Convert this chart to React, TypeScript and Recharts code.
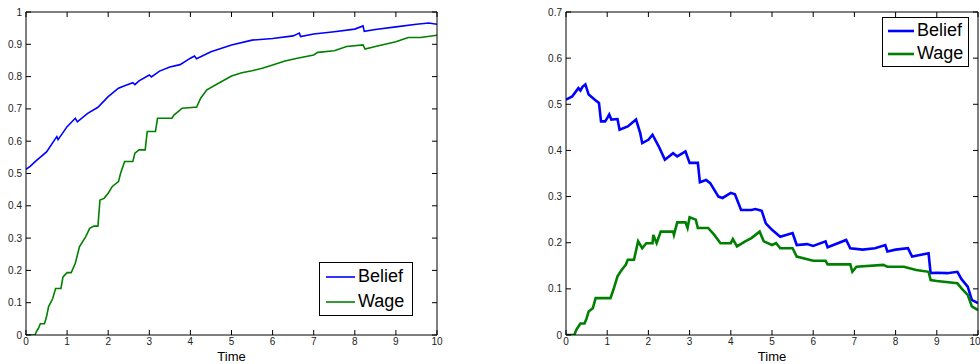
import { LineChart, Line, XAxis, YAxis, Legend } from "recharts";

// left panel
const leftBeliefTime = [0, 0.1, 0.25, 0.5, 0.7, 0.75, 0.78, 1.0, 1.2, 1.25, 1.5, 1.75, 2.0, 2.25, 2.4, 2.6, 2.65, 2.75, 3.0, 3.05, 3.25, 3.5, 3.75, 4.0, 4.1, 4.15, 4.5, 5.0, 5.5, 6.0, 6.5, 6.65, 6.68, 7.0, 7.5, 8.0, 8.2, 8.23, 8.5, 9.0, 9.5, 9.8, 10];
const leftBeliefValue = [0.513, 0.522, 0.54, 0.567, 0.605, 0.614, 0.605, 0.645, 0.671, 0.66, 0.686, 0.705, 0.738, 0.764, 0.772, 0.781, 0.775, 0.787, 0.805, 0.799, 0.817, 0.83, 0.837, 0.857, 0.864, 0.855, 0.877, 0.898, 0.913, 0.918, 0.926, 0.935, 0.924, 0.932, 0.939, 0.947, 0.957, 0.94, 0.946, 0.954, 0.962, 0.966, 0.962];

const leftWageTime = [0, 0.22, 0.25, 0.3, 0.35, 0.45, 0.5, 0.55, 0.65, 0.72, 0.85, 0.9, 1.0, 1.1, 1.2, 1.3, 1.45, 1.55, 1.65, 1.75, 1.8, 1.9, 2.0, 2.1, 2.25, 2.3, 2.4, 2.6, 2.65, 2.75, 2.9, 2.95, 3.15, 3.2, 3.55, 3.6, 3.8, 4.1, 4.15, 4.25, 4.4, 4.75, 5.0, 5.25, 5.5, 5.75, 6.0, 6.3, 6.6, 7.0, 7.1, 7.5, 7.8, 8.2, 8.25, 8.5, 9.0, 9.3, 9.6, 10];
const leftWageValue = [0, 0, 0.01, 0.02, 0.035, 0.035, 0.057, 0.088, 0.113, 0.144, 0.144, 0.18, 0.193, 0.193, 0.222, 0.273, 0.304, 0.33, 0.337, 0.337, 0.418, 0.423, 0.439, 0.46, 0.475, 0.5, 0.537, 0.537, 0.563, 0.573, 0.573, 0.63, 0.63, 0.671, 0.671, 0.681, 0.702, 0.705, 0.705, 0.733, 0.759, 0.784, 0.802, 0.812, 0.818, 0.826, 0.836, 0.848, 0.857, 0.867, 0.875, 0.88, 0.893, 0.898, 0.885, 0.893, 0.908, 0.921, 0.921, 0.928];

// right panel
const rightBeliefTime = [0, 0.15, 0.3, 0.35, 0.4, 0.47, 0.55, 0.7, 0.8, 0.85, 0.95, 1.0, 1.05, 1.1, 1.25, 1.3, 1.5, 1.7, 1.8, 1.85, 2.0, 2.1, 2.25, 2.4, 2.6, 2.7, 2.9, 3.0, 3.2, 3.25, 3.4, 3.5, 3.7, 3.8, 4.0, 4.1, 4.25, 4.5, 4.6, 4.75, 4.85, 5.0, 5.2, 5.5, 5.6, 5.85, 6.0, 6.3, 6.35, 6.8, 6.9, 7.2, 7.5, 7.75, 7.8, 8.0, 8.3, 8.4, 8.8, 8.85, 9.0, 9.25, 9.5, 9.6, 9.75, 9.85, 10];
const rightBeliefValue = [0.51, 0.517, 0.535, 0.53, 0.538, 0.543, 0.521, 0.51, 0.503, 0.463, 0.463, 0.47, 0.478, 0.467, 0.468, 0.445, 0.452, 0.467, 0.438, 0.416, 0.423, 0.434, 0.409, 0.38, 0.394, 0.387, 0.398, 0.373, 0.373, 0.331, 0.336, 0.329, 0.3, 0.297, 0.308, 0.305, 0.271, 0.271, 0.273, 0.269, 0.242, 0.228, 0.213, 0.221, 0.195, 0.197, 0.193, 0.203, 0.19, 0.206, 0.188, 0.185, 0.188, 0.195, 0.181, 0.185, 0.188, 0.17, 0.177, 0.134, 0.135, 0.134, 0.137, 0.121, 0.105, 0.076, 0.069];

const rightWageTime = [0, 0.2, 0.25, 0.35, 0.45, 0.5, 0.55, 0.65, 0.72, 1.08, 1.15, 1.25, 1.35, 1.45, 1.5, 1.65, 1.75, 1.85, 1.95, 2.1, 2.12, 2.2, 2.3, 2.6, 2.62, 2.7, 2.9, 2.95, 3.0, 3.15, 3.2, 3.45, 3.6, 3.75, 4.0, 4.05, 4.15, 4.35, 4.5, 4.6, 4.7, 4.8, 5.0, 5.1, 5.2, 5.5, 5.6, 6.0, 6.3, 6.35, 6.9, 6.95, 7.05, 7.7, 7.8, 8.2, 8.5, 8.8, 8.85, 9.0, 9.5, 9.6, 9.75, 9.85, 10];
const rightWageValue = [0, 0, 0.011, 0.025, 0.025, 0.036, 0.051, 0.058, 0.08, 0.08, 0.098, 0.127, 0.141, 0.152, 0.163, 0.163, 0.203, 0.188, 0.199, 0.199, 0.217, 0.199, 0.224, 0.224, 0.217, 0.244, 0.244, 0.232, 0.255, 0.25, 0.232, 0.232, 0.217, 0.199, 0.199, 0.208, 0.192, 0.203, 0.21, 0.217, 0.224, 0.203, 0.195, 0.199, 0.188, 0.188, 0.17, 0.161, 0.161, 0.153, 0.153, 0.137, 0.148, 0.152, 0.148, 0.148, 0.141, 0.137, 0.119, 0.117, 0.112, 0.101, 0.087, 0.062, 0.054];

const timeTicks = [0, 1, 2, 3, 4, 5, 6, 7, 8, 9, 10];
const leftValueTicks = [0, 0.1, 0.2, 0.3, 0.4, 0.5, 0.6, 0.7, 0.8, 0.9, 1];
const rightValueTicks = [0, 0.1, 0.2, 0.3, 0.4, 0.5, 0.6, 0.7];

const zip = (t: number[], v: number[]) => t.map((x, i) => ({ t: x, v: v[i] }));

const FONT = "'Liberation Sans', Arial, sans-serif";
const tickStyle = { fill: "#222", fontSize: 10, fontFamily: FONT };
const blank = () => "";

type LegendLook = { lineWidth: number; sample: number; padLeft: number; padRight: number; rowHeight: number };

function BoxLegend({ payload, look }: { payload: any[]; look: LegendLook }) {
  const items = (payload || []).filter((p: any) => p.value === "Belief" || p.value === "Wage");
  return (
    <div
      style={{
        border: "1px solid #000",
        background: "#fff",
        padding: `1px ${look.padRight}px 1px ${look.padLeft}px`,
        fontFamily: FONT,
        fontSize: 18,
        lineHeight: `${look.rowHeight}px`,
        color: "#000",
      }}
    >
      {items.map((p: any) => (
        <div key={p.value} style={{ display: "flex", alignItems: "center" }}>
          <svg width={look.sample} height={10} style={{ marginRight: 3 }}>
            <line x1={0} y1={5} x2={look.sample} y2={5} stroke={p.color} strokeWidth={look.lineWidth} />
          </svg>
          <span>{p.value}</span>
        </div>
      ))}
    </div>
  );
}

function Panel({
  width,
  marginRight,
  yMax,
  yTicks,
  belief,
  wage,
  strokeWidth,
  legendPos,
  legendLook,
}: {
  width: number;
  marginRight: number;
  yMax: number;
  yTicks: number[];
  belief: { t: number; v: number }[];
  wage: { t: number; v: number }[];
  strokeWidth: number;
  legendPos: { left: number; top: number };
  legendLook: LegendLook;
}) {
  return (
    <LineChart width={width} height={364} margin={{ top: 11, right: marginRight - 1, left: 0, bottom: 0 }}>
      <XAxis
        dataKey="t"
        type="number"
        domain={[0, 10]}
        ticks={timeTicks}
        allowDataOverflow
        height={29}
        tickSize={-5}
        tickMargin={8}
        tick={tickStyle}
        axisLine={{ stroke: "#000" }}
        tickLine={{ stroke: "#000" }}
        label={{ value: "Time", position: "insideBottom", offset: 3, fill: "#000", fontSize: 13, fontFamily: FONT }}
      />
      <XAxis
        xAxisId="top"
        orientation="top"
        dataKey="t"
        type="number"
        domain={[0, 10]}
        ticks={timeTicks}
        allowDataOverflow
        height={1}
        tickSize={-5}
        tick={tickStyle}
        tickFormatter={blank}
        axisLine={{ stroke: "#000" }}
        tickLine={{ stroke: "#000" }}
      />
      <YAxis
        type="number"
        domain={[0, yMax]}
        ticks={yTicks}
        allowDataOverflow
        width={26}
        tickSize={-5}
        tickMargin={9}
        tick={tickStyle}
        axisLine={{ stroke: "#000" }}
        tickLine={{ stroke: "#000" }}
      />
      <YAxis
        yAxisId="right"
        orientation="right"
        type="number"
        domain={[0, yMax]}
        ticks={yTicks}
        allowDataOverflow
        width={1}
        tickSize={-5}
        tick={tickStyle}
        tickFormatter={blank}
        axisLine={{ stroke: "#000" }}
        tickLine={{ stroke: "#000" }}
      />
      {/* invisible series so the top and right box axes get drawn */}
      <Line
        data={belief}
        dataKey="v"
        xAxisId="top"
        yAxisId="right"
        name="box"
        stroke="none"
        legendType="none"
        dot={false}
        activeDot={false}
        isAnimationActive={false}
      />
      <Line data={belief} dataKey="v" name="Belief" stroke="#0000ff" strokeWidth={strokeWidth} dot={false} isAnimationActive={false} />
      <Line data={wage} dataKey="v" name="Wage" stroke="#008000" strokeWidth={strokeWidth} dot={false} isAnimationActive={false} />
      <Legend
        layout="vertical"
        align="center"
        verticalAlign="middle"
        wrapperStyle={{ left: legendPos.left, top: legendPos.top, width: "auto" }}
        content={(props: any) => <BoxLegend payload={props.payload} look={legendLook} />}
      />
    </LineChart>
  );
}

export default function App() {
  return (
    <div style={{ position: "absolute", left: 0, top: 0, width: 980, height: 364, background: "#fff" }}>
      <div style={{ position: "absolute", left: 0, top: 0 }}>
        <Panel
          width={450}
          marginRight={13}
          yMax={1}
          yTicks={leftValueTicks}
          belief={zip(leftBeliefTime, leftBeliefValue)}
          wage={zip(leftWageTime, leftWageValue)}
          strokeWidth={1.6}
          legendPos={{ left: 319, top: 262 }}
          legendLook={{ lineWidth: 1.6, sample: 29, padLeft: 6, padRight: 8, rowHeight: 25 }}
        />
      </div>
      <div style={{ position: "absolute", left: 540, top: 0 }}>
        <Panel
          width={440}
          marginRight={2}
          yMax={0.7}
          yTicks={rightValueTicks}
          belief={zip(rightBeliefTime, rightBeliefValue)}
          wage={zip(rightWageTime, rightWageValue)}
          strokeWidth={2.6}
          legendPos={{ left: 342, top: 17 }}
          legendLook={{ lineWidth: 2.6, sample: 26, padLeft: 5, padRight: 5, rowHeight: 23 }}
        />
      </div>
    </div>
  );
}
